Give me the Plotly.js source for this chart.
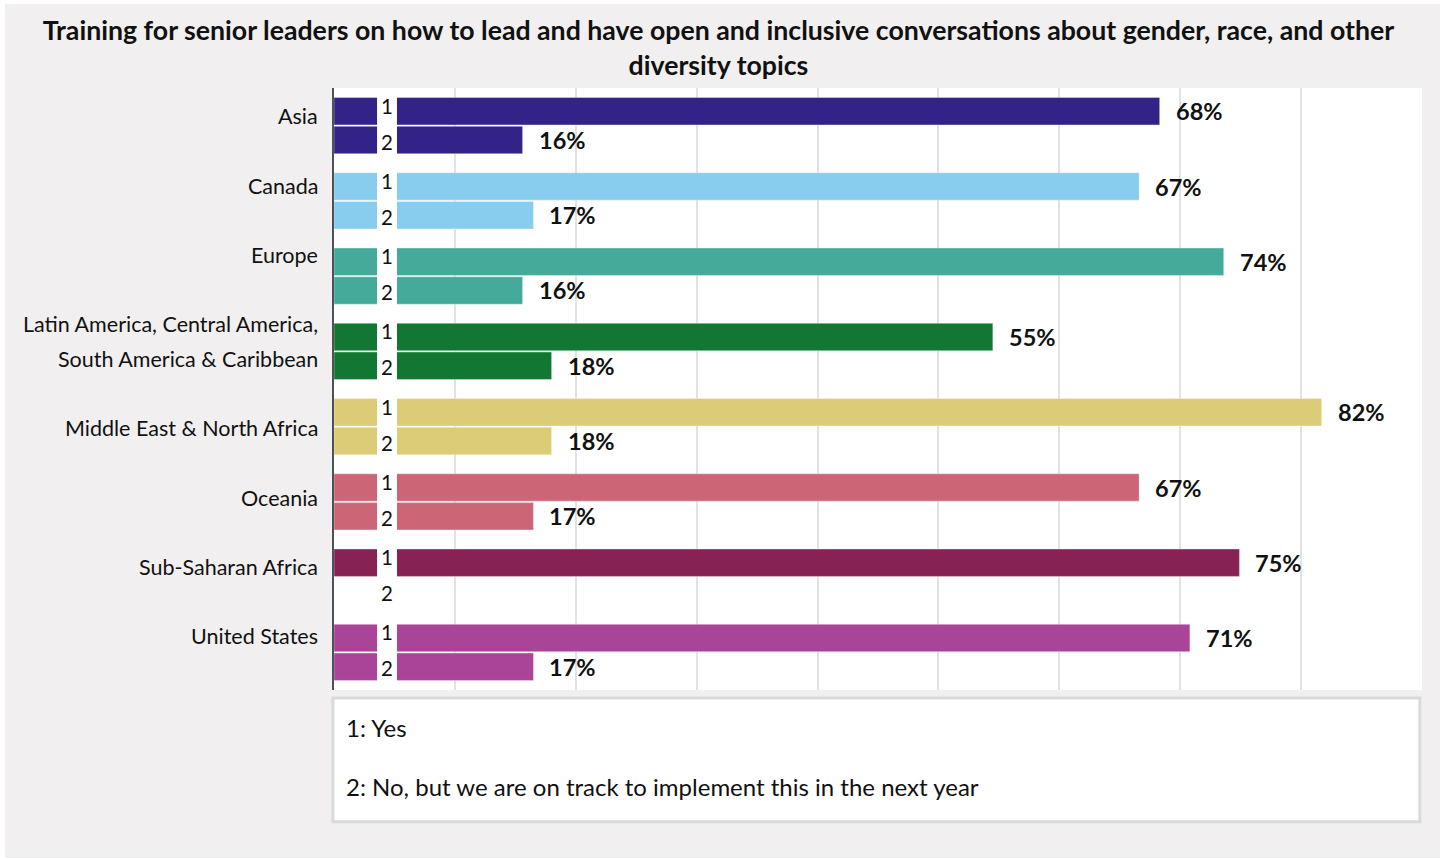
<!DOCTYPE html>
<html>
<head>
<meta charset="utf-8">
<script src="https://cdn.plot.ly/plotly-3.0.1.min.js"></script>
<style>
html,body{margin:0;padding:0;background:#ffffff;}
#chart{position:absolute;left:5px;top:4px;width:1435px;height:854px;}
</style>
</head>
<body>
<div id="chart"></div>
<script>
// ---- data ----
const categories = [
  'Asia',
  'Canada',
  'Europe',
  'Latin America, Central America,<br>South America & Caribbean',
  'Middle East & North Africa',
  'Oceania',
  'Sub-Saharan Africa',
  'United States'
];
const yesValues = [68.3, 66.6, 73.6, 54.5, 81.7, 66.6, 74.9, 70.8];
const noValues  = [15.6, 16.5, 15.6, 18.0, 18.0, 16.5, null, 16.5];
const categoryColors = ['#332288', '#88CCEE', '#44AA99', '#117733', '#DDCC77', '#CC6677', '#882255', '#AA4499'];
const seriesKeys = ['1', '2'];
const seriesLabels = ['Yes', 'No, but we are on track to implement this in the next year'];
const chartTitle = 'Training for senior leaders on how to lead and have open and inclusive conversations about gender, race, and other<br>diversity topics';

// ---- styling constants ----
const FONT = 'Lato, "Open Sans", sans-serif';
const barShift = 14.3;        // px offset of each bar from category centre
const plotTopPx = 84, plotHeightPx = 602;
const labelFirstPx = 112.2;   // div px of first category-label line
const labelLinePx = 34.67;    // line pitch of the category-label column

const seriesValues = [yesValues, noValues];
const traces = seriesValues.map((vals, k) => ({
  type: 'bar',
  orientation: 'h',
  name: seriesKeys[k] + ': ' + seriesLabels[k],
  x: vals,
  y: categories,
  marker: {color: categoryColors, line: {width: 1, color: 'rgba(255,255,255,0.35)'}},
  hoverinfo: 'skip',
  showlegend: false
}));

const annotations = [];
// value labels
seriesValues.forEach((vals, k) => {
  vals.forEach((v, i) => {
    if (v === null) return;
    annotations.push({
      x: v, y: categories[i], xref: 'x', yref: 'y',
      text: Math.round(v) + '%', showarrow: false,
      xanchor: 'left', yanchor: 'middle',
      xshift: 14, yshift: k === 0 ? barShift : -barShift,
      font: {family: FONT, size: 23.5, color: '#111111', weight: 700}
    });
  });
});
// series key labels ("1" / "2") in the white strip
categories.forEach((c) => {
  seriesKeys.forEach((key, k) => {
    annotations.push({
      x: 4.38, y: c, xref: 'x', yref: 'y',
      text: key, showarrow: false,
      xanchor: 'center', yanchor: 'middle',
      yshift: k === 0 ? 20 : -16,
      font: {family: FONT, size: 20.5, color: '#111111'}
    });
  });
});
// category labels, flowed as a text column (each label followed by a blank line)
let slot = 0;
categories.forEach((c) => {
  const lines = c.split('<br>');
  lines.forEach((ln) => {
    const px = labelFirstPx + slot * labelLinePx;
    annotations.push({
      xref: 'paper', yref: 'paper',
      x: -0.0129, y: 1 - (px - plotTopPx) / plotHeightPx,
      xanchor: 'right', yanchor: 'middle',
      text: ln, showarrow: false,
      font: {family: FONT, size: 21.5, color: '#111111'}
    });
    slot += 1;
  });
  slot += 1;
});
// legend text
seriesKeys.forEach((key, k) => {
  annotations.push({
    xref: 'paper', yref: 'paper',
    x: 0.0095, y: k === 0 ? -0.063 : -0.161,
    xanchor: 'left', yanchor: 'middle',
    text: key + ': ' + seriesLabels[k], showarrow: false,
    font: {family: FONT, size: 24, color: '#111111'}
  });
});

const layout = {
  width: 1435, height: 854,
  paper_bgcolor: '#f1eff0',
  plot_bgcolor: '#ffffff',
  margin: {l: 329, r: 18, t: plotTopPx, b: 854 - plotTopPx - plotHeightPx},
  title: {
    text: chartTitle,
    x: 0.4972, xanchor: 'center',
    y: 0.9575, yanchor: 'top',
    font: {family: FONT, size: 26.7, color: '#111111', weight: 700}
  },
  barmode: 'group',
  bargap: 0.235,
  bargroupgap: 0.05,
  xaxis: {
    range: [0, 90],
    dtick: 10,
    showticklabels: false,
    showgrid: true,
    gridcolor: '#dfe2e7',
    gridwidth: 2,
    zeroline: false,
    fixedrange: true
  },
  yaxis: {
    type: 'category',
    autorange: 'reversed',
    showline: true,
    linecolor: '#4d5258',
    linewidth: 2,
    ticks: '',
    showticklabels: false,
    showgrid: false,
    zeroline: false,
    fixedrange: true
  },
  shapes: [
    {type: 'rect', xref: 'x', yref: 'paper', x0: 3.56, x1: 5.21, y0: 0, y1: 1,
     fillcolor: '#ffffff', line: {width: 0}, layer: 'above'},
    {type: 'rect', xref: 'paper', yref: 'paper', x0: -0.001, x1: 0.998, y0: -0.219, y1: -0.0133,
     fillcolor: '#ffffff', line: {width: 3, color: '#d9dadb'}, layer: 'below'}
  ],
  annotations: annotations
};

Plotly.newPlot('chart', traces, layout, {displayModeBar: false, staticPlot: true});
</script>
</body>
</html>
